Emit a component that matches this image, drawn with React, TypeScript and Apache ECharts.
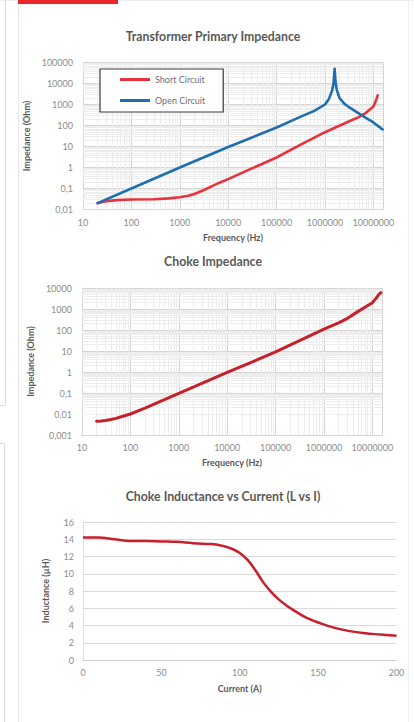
import React, { useEffect, useRef } from "react";
import * as echarts from "echarts";

// ---- Chart 1: Transformer Primary Impedance ----
const openFreq = [20, 100, 1000, 10000, 100000, 300000, 600000, 1000000, 1200000, 1400000, 1500000, 1580000, 1650000, 1750000, 2000000, 2500000, 3000000, 5000000, 7000000, 10000000, 15500000];
const openZ = [0.02, 0.1, 1, 9.5, 80, 250, 500, 1000, 1800, 4500, 10000, 50000, 12000, 5000, 2000, 1100, 800, 380, 230, 140, 65];
const shortFreq = [20, 25, 30, 50, 100, 300, 600, 1000, 1500, 2000, 3000, 5000, 7000, 10000, 30000, 100000, 300000, 1000000, 3000000, 5000000, 7000000, 10000000, 11000000, 12300000];
const shortZ = [0.02, 0.023, 0.025, 0.028, 0.03, 0.031, 0.034, 0.038, 0.045, 0.055, 0.08, 0.14, 0.2, 0.28, 0.88, 3.0, 11.5, 48, 150, 250, 400, 800, 1300, 2700];

// ---- Chart 2: Choke Impedance ----
const chokeFreq = [20, 25, 30, 40, 50, 70, 100, 200, 1000, 10000, 100000, 1000000, 2000000, 3000000, 5000000, 7000000, 10000000, 12000000, 13500000, 15000000];
const chokeZ = [0.0045, 0.0046, 0.0049, 0.0055, 0.0062, 0.0078, 0.01, 0.019, 0.095, 0.95, 9, 110, 220, 350, 750, 1200, 2000, 3300, 4800, 6000];

// ---- Chart 3: Choke Inductance vs Current ----
const currentA = [0, 10, 20, 30, 40, 50, 60, 70, 80, 85, 90, 95, 100, 105, 110, 115, 120, 125, 130, 135, 140, 145, 150, 160, 170, 180, 190, 200];
const inductanceUH = [14.2, 14.2, 14.0, 13.8, 13.8, 13.75, 13.7, 13.55, 13.45, 13.4, 13.2, 12.9, 12.4, 11.6, 10.4, 9.0, 7.9, 7.0, 6.3, 5.7, 5.15, 4.7, 4.35, 3.75, 3.35, 3.1, 2.95, 2.8];

const titles = ["Transformer Primary Impedance", "Choke Impedance", "Choke Inductance vs Current (L vs I)"];
const seriesNames = ["Short Circuit", "Open Circuit"];

const FONT = "Lato";
const LABEL_COLOR = "#8c8c8c";
const TITLE_COLOR = "#595959";
const MINOR_COLOR = "#ededed";

const pairs = (xs: number[], ys: number[]) => xs.map((x, i) => [x, ys[i]]);

const fmtLog = (v: number) => {
  if (v >= 1) return String(Math.round(v));
  const d = Math.round(-Math.log10(v));
  return v.toFixed(d).replace(".", ",");
};

// log-spaced minor gridline positions (2..9 × 10^e) within [lo, hi]
const minorPositions = (lo: number, hi: number) => {
  const out: number[] = [];
  for (let e = Math.floor(Math.log10(lo)); e <= Math.ceil(Math.log10(hi)); e++) {
    for (let k = 2; k <= 9; k++) {
      const v = k * Math.pow(10, e);
      if (v > lo && v < hi) out.push(v);
    }
  }
  return out;
};

const gridHelper = (idx: number, xLo: number, xHi: number, yLo: number, yHi: number) => ({
  name: "minor-grid-" + idx,
  type: "line",
  xAxisIndex: idx,
  yAxisIndex: idx,
  data: [],
  silent: true,
  z: 1,
  markLine: {
    silent: true,
    symbol: ["none", "none"],
    label: { show: false },
    lineStyle: { color: MINOR_COLOR, width: 1, type: "solid" },
    emphasis: { disabled: true },
    data: [
      ...minorPositions(xLo, xHi).map((v) => ({ xAxis: v })),
      ...minorPositions(yLo, yHi).map((v) => ({ yAxis: v })),
    ],
  },
});

const nameStyle = { fontFamily: FONT, fontSize: 9, fontWeight: "bold", color: TITLE_COLOR };
const tickStyle = { fontFamily: FONT, fontSize: 9, color: LABEL_COLOR };

const logX = (gridIndex: number) => ({
  type: "log",
  logBase: 10,
  gridIndex,
  min: 10,
  max: 15800000,
  splitNumber: 7,
  name: "Frequency (Hz)",
  nameLocation: "middle",
  nameGap: 23,
  nameTextStyle: nameStyle,
  axisLine: { show: true, lineStyle: { color: "#d4d4d4" } },
  axisTick: { show: false },
  axisLabel: { ...tickStyle, margin: 8, showMaxLabel: false, formatter: fmtLog },
  splitLine: { show: true, lineStyle: { color: "#d4d4d4", width: 1 } },
  z: 3,
});

const logY = (gridIndex: number, min: number, max: number) => ({
  type: "log",
  logBase: 10,
  gridIndex,
  min,
  max,
  splitNumber: 7,
  name: "Impedance (Ohm)",
  nameLocation: "middle",
  nameRotate: 90,
  nameGap: 44,
  nameTextStyle: nameStyle,
  axisLine: { show: true, lineStyle: { color: "#d4d4d4" } },
  axisTick: { show: false },
  axisLabel: { ...tickStyle, margin: 10, formatter: fmtLog },
  splitLine: { show: true, lineStyle: { color: "#d4d4d4", width: 1 } },
  z: 3,
});

export default function App() {
  const ref = useRef<HTMLDivElement>(null);

  useEffect(() => {
    if (!ref.current) return;
    const chart = echarts.init(ref.current, null, { renderer: "svg" });
    const titleStyle = { fontFamily: FONT, fontSize: 12.3, fontWeight: "bold", color: TITLE_COLOR };
    chart.setOption({
      animation: false,
      backgroundColor: "transparent",
      title: [
        { text: titles[0], left: 213, top: 30, textAlign: "center", textStyle: titleStyle, padding: 0 },
        { text: titles[1], left: 213, top: 255, textAlign: "center", textStyle: titleStyle, padding: 0 },
        { text: titles[2], left: 223, top: 490, textAlign: "center", textStyle: titleStyle, padding: 0 },
      ],
      legend: {
        data: seriesNames,
        orient: "vertical",
        left: 100,
        top: 69,
        padding: [6, 18, 7, 20],
        itemGap: 12,
        itemWidth: 30,
        itemHeight: 3,
        icon: "rect",
        borderColor: "#3a3a3a",
        borderWidth: 1.2,
        backgroundColor: "#ffffff",
        textStyle: { fontFamily: FONT, fontSize: 9, color: "#707070" },
        z: 10,
      },
      grid: [
        { left: 83, top: 62.5, width: 300, height: 147 },
        { left: 82, top: 288, width: 300, height: 147 },
        { left: 83, top: 522, width: 313.5, height: 138 },
      ],
      xAxis: [
        logX(0),
        logX(1),
        {
          type: "value",
          gridIndex: 2,
          min: 0,
          max: 200,
          interval: 50,
          name: "Current (A)",
          nameLocation: "middle",
          nameGap: 24,
          nameTextStyle: nameStyle,
          axisLine: { show: true, lineStyle: { color: "#d0d0d0" } },
          axisTick: { show: false },
          axisLabel: { ...tickStyle, margin: 8 },
          splitLine: { show: false },
        },
      ],
      yAxis: [
        logY(0, 0.01, 100000),
        logY(1, 0.001, 10000),
        {
          type: "value",
          gridIndex: 2,
          min: 0,
          max: 16,
          interval: 2,
          name: "Inductance (µH)",
          nameLocation: "middle",
          nameRotate: 90,
          nameGap: 33,
          nameTextStyle: nameStyle,
          axisLine: { show: true, lineStyle: { color: "#e0e0e0" } },
          axisTick: { show: false },
          axisLabel: { ...tickStyle, margin: 9 },
          splitLine: { show: true, lineStyle: { color: "#d9d9d9" } },
        },
      ],
      series: [
        gridHelper(0, 10, 15800000, 0.01, 100000),
        gridHelper(1, 10, 15800000, 0.001, 10000),
        {
          name: seriesNames[0],
          type: "line",
          xAxisIndex: 0,
          yAxisIndex: 0,
          data: pairs(shortFreq, shortZ),
          showSymbol: false,
          smooth: false,
          z: 5,
          lineStyle: { color: "#e8323c", width: 2.6, join: "round", cap: "round" },
          itemStyle: { color: "#e8323c" },
        },
        {
          name: seriesNames[1],
          type: "line",
          xAxisIndex: 0,
          yAxisIndex: 0,
          data: pairs(openFreq, openZ),
          showSymbol: false,
          smooth: false,
          z: 5,
          lineStyle: { color: "#1f6eb0", width: 2.6, join: "round", cap: "round" },
          itemStyle: { color: "#1f6eb0" },
        },
        {
          name: "Choke",
          type: "line",
          xAxisIndex: 1,
          yAxisIndex: 1,
          data: pairs(chokeFreq, chokeZ),
          showSymbol: false,
          smooth: false,
          z: 5,
          lineStyle: { color: "#c8202a", width: 3, join: "round", cap: "round" },
          itemStyle: { color: "#c8202a" },
        },
        {
          name: "Inductance",
          type: "line",
          xAxisIndex: 2,
          yAxisIndex: 2,
          data: pairs(currentA, inductanceUH),
          showSymbol: false,
          smooth: 0.4,
          z: 5,
          lineStyle: { color: "#c8202a", width: 2.5 },
          itemStyle: { color: "#c8202a" },
        },
      ],
    });
    return () => chart.dispose();
  }, []);

  return (
    <div style={{ position: "fixed", left: 0, top: 0, width: 414, height: 722, background: "#ffffff", overflow: "hidden" }}>
      {/* page decorations */}
      <div style={{ position: "absolute", left: 0, top: 0, width: 414, height: 1, background: "#eeeeee" }} />
      <div style={{ position: "absolute", left: 18, top: 0, width: 100, height: 4, background: "#e8262c" }} />
      <div style={{ position: "absolute", left: 18, top: 4, width: 1, height: 718, background: "#e6e6e6" }} />
      <div style={{ position: "absolute", left: 408, top: 0, width: 1, height: 722, background: "#f0f0f0" }} />
      <div style={{ position: "absolute", left: 5, top: 0, width: 1, height: 405, background: "#dddddd" }} />
      <div style={{ position: "absolute", left: 0, top: 405, width: 6, height: 1, background: "#dddddd" }} />
      <div style={{ position: "absolute", left: 0, top: 443, width: 5, height: 1, background: "#dddddd" }} />
      <div style={{ position: "absolute", left: 4, top: 443, width: 1, height: 279, background: "#dddddd" }} />
      <div ref={ref} style={{ position: "absolute", left: 0, top: 0, width: 414, height: 722 }} />
    </div>
  );
}
